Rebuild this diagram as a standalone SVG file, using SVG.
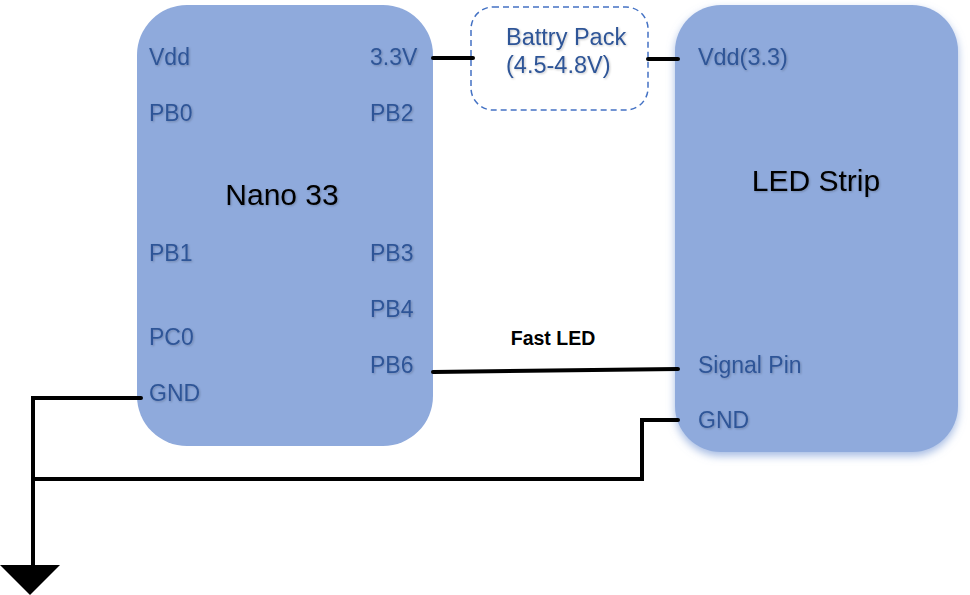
<svg xmlns="http://www.w3.org/2000/svg" width="970" height="595" viewBox="0 0 970 595">
<defs>
<filter id="soft" x="-10%" y="-10%" width="120%" height="120%"><feDropShadow dx="0" dy="4" stdDeviation="4" flood-color="#8faadc" flood-opacity="0.8"/></filter>
<filter id="ts" x="-10%" y="-20%" width="120%" height="150%"><feDropShadow dx="1" dy="1" stdDeviation="0.8" flood-color="#000" flood-opacity="0.22"/></filter>
</defs>
<style>
text{font-family:"Liberation Sans",Arial,sans-serif}
.pin{font-size:23px;fill:#2f5597;filter:url(#ts)}
.title{font-size:30px;fill:#000;text-anchor:middle;filter:url(#ts)}
.block{fill:#8faadc}
.wire{fill:none;stroke:#000;stroke-width:4;stroke-linecap:round;stroke-linejoin:miter}
</style>
<rect width="970" height="595" fill="#fff"/>
<g id="nano">
<rect class="block" x="137" y="5" width="296" height="441" rx="50" ry="50"/>
<text class="title" x="282" y="205">Nano 33</text>
<text class="pin" x="149" y="65">Vdd</text>
<text class="pin" x="149" y="121">PB0</text>
<text class="pin" x="149" y="261">PB1</text>
<text class="pin" x="149" y="345">PC0</text>
<text class="pin" x="149" y="401">GND</text>
<text class="pin" x="370" y="65">3.3V</text>
<text class="pin" x="370" y="121">PB2</text>
<text class="pin" x="370" y="261">PB3</text>
<text class="pin" x="370" y="317">PB4</text>
<text class="pin" x="370" y="373">PB6</text>
</g>
<g id="battery">
<rect x="471" y="7" width="177" height="103" rx="22" ry="22" fill="#fff" stroke="#4472c4" stroke-width="1.5" stroke-dasharray="6 4"/>
<text class="pin" x="506" y="45" style="font-size:23.5px">Battry Pack</text>
<text class="pin" x="506" y="73" style="font-size:23.5px">(4.5-4.8V)</text>
</g>
<g id="led">
<rect class="block" x="675" y="5" width="283" height="447" rx="46" ry="46" filter="url(#soft)"/>
<text class="title" x="816" y="191">LED Strip</text>
<text class="pin" x="698" y="65" style="font-size:23.4px">Vdd(3.3)</text>
<text class="pin" x="698" y="373">Signal Pin</text>
<text class="pin" x="698" y="428">GND</text>
</g>
<g id="connectors">
<path class="wire" d="M433 58H473"/>
<path class="wire" d="M648 59H678"/>
<path class="wire" d="M433 372L678 369"/>
<path class="wire" d="M141 398H33V567"/>
<path class="wire" d="M33 479H642V420H678"/>
</g>
<text id="fast-led" x="553" y="345" font-size="19.5" font-weight="700" text-anchor="middle" fill="#000">Fast LED</text>
<polygon id="ground" points="0,565 60,565 30,595" fill="#000"/>
</svg>
